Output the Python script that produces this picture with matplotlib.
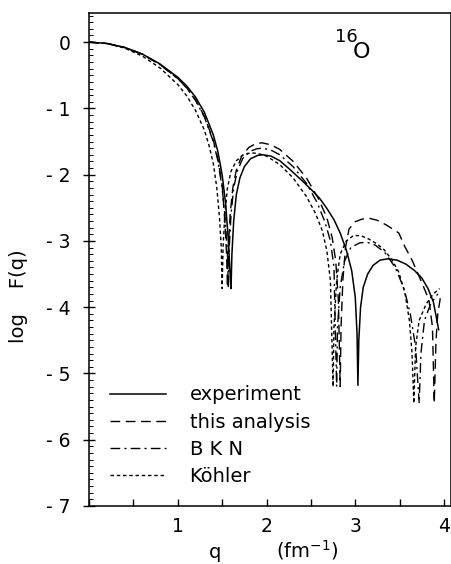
import numpy as np
import matplotlib
matplotlib.use("Agg")
import matplotlib.pyplot as plt
from matplotlib.ticker import MultipleLocator, FixedLocator

plt.rcParams['font.family'] = ['DejaVu Sans']

# values (q in fm^-1, log F(q))
q_exp = [0, 0.2, 0.4, 0.6, 0.8, 1.0, 1.1, 1.2, 1.3, 1.4, 1.45, 1.5, 1.54, 1.57, 1.59, 1.60,
         1.61, 1.63, 1.66, 1.70, 1.75, 1.82, 1.90, 1.96, 2.05, 2.15, 2.27, 2.4, 2.5, 2.6, 2.68, 2.76, 2.83, 2.90, 2.96, 3.0, 3.02, 3.03,
         3.04, 3.06, 3.09, 3.14, 3.2, 3.28, 3.37, 3.47, 3.57, 3.67, 3.75, 3.82, 3.88, 3.94]
f_exp = [0, -0.02, -0.08, -0.18, -0.33, -0.53, -0.66, -0.83, -1.06, -1.40, -1.64, -2.0, -2.45, -3.0, -3.5, -3.72,
         -3.2, -2.7, -2.3, -2.05, -1.88, -1.76, -1.71, -1.70, -1.72, -1.79, -1.93, -2.09, -2.22, -2.36, -2.51, -2.68, -2.88, -3.14, -3.45, -3.85, -4.4, -5.18,
         -4.5, -4.0, -3.7, -3.5, -3.37, -3.29, -3.27, -3.29, -3.35, -3.45, -3.56, -3.72, -3.92, -4.34]

q_ana = [0, 0.2, 0.4, 0.6, 0.8, 1.0, 1.1, 1.2, 1.3, 1.4, 1.45, 1.5, 1.53, 1.55, 1.56,
         1.57, 1.59, 1.62, 1.66, 1.72, 1.80, 1.88, 1.95, 2.05, 2.15, 2.3, 2.45, 2.58, 2.68, 2.74, 2.78, 2.81, 2.83,
         2.84, 2.86, 2.89, 2.93, 3.0, 3.08, 3.16, 3.25, 3.35, 3.42, 3.49, 3.56, 3.64, 3.75, 3.83, 3.87, 3.89,
         3.91, 3.93, 3.96]
f_ana = [0, -0.02, -0.08, -0.18, -0.34, -0.55, -0.69, -0.87, -1.12, -1.48, -1.75, -2.15, -2.7, -3.2, -3.70,
         -3.1, -2.6, -2.2, -1.93, -1.72, -1.59, -1.53, -1.52, -1.55, -1.62, -1.80, -2.05, -2.35, -2.65, -2.95, -3.3, -3.9, -5.2,
         -4.3, -3.6, -3.1, -2.82, -2.71, -2.67, -2.66, -2.69, -2.76, -2.82, -2.88, -3.09, -3.29, -3.63, -3.89, -4.3, -5.45,
         -4.5, -4.1, -3.85]

q_bkn = [0, 0.2, 0.4, 0.6, 0.8, 1.0, 1.1, 1.2, 1.3, 1.4, 1.45, 1.5, 1.53, 1.56, 1.57,
         1.58, 1.60, 1.63, 1.67, 1.73, 1.81, 1.89, 1.95, 2.05, 2.15, 2.3, 2.45, 2.57, 2.66, 2.72, 2.76, 2.79,
         2.80, 2.83, 2.88, 2.95, 3.05, 3.13, 3.22, 3.33, 3.45, 3.55, 3.62, 3.68, 3.72,
         3.74, 3.78, 3.85, 3.93]
f_bkn = [0, -0.02, -0.08, -0.18, -0.34, -0.55, -0.69, -0.88, -1.13, -1.50, -1.78, -2.2, -2.6, -3.2, -3.72,
         -3.1, -2.6, -2.2, -1.95, -1.76, -1.65, -1.61, -1.60, -1.63, -1.70, -1.88, -2.13, -2.42, -2.72, -3.0, -3.4, -5.2,
         -4.3, -3.7, -3.3, -3.1, -3.03, -3.02, -3.06, -3.17, -3.40, -3.72, -4.1, -4.6, -5.45,
         -4.7, -4.2, -3.95, -3.8]

q_koh = [0, 0.2, 0.4, 0.6, 0.8, 1.0, 1.1, 1.2, 1.3, 1.35, 1.4, 1.44, 1.47, 1.49, 1.50,
         1.51, 1.53, 1.56, 1.60, 1.66, 1.73, 1.82, 1.90, 2.0, 2.15, 2.3, 2.45, 2.55, 2.63, 2.68, 2.72, 2.75,
         2.76, 2.79, 2.83, 2.9, 2.98, 3.06, 3.15, 3.25, 3.33, 3.42, 3.49, 3.56, 3.61, 3.64, 3.66,
         3.68, 3.72, 3.8, 3.88, 3.95]
f_koh = [0, -0.02, -0.09, -0.21, -0.39, -0.64, -0.81, -1.03, -1.33, -1.55, -1.83, -2.2, -2.65, -3.1, -3.72,
         -3.1, -2.6, -2.2, -1.95, -1.79, -1.71, -1.67, -1.68, -1.72, -1.85, -2.05, -2.33, -2.58, -2.85, -3.15, -3.6, -5.2,
         -4.3, -3.6, -3.2, -3.0, -2.92, -2.92, -2.97, -3.05, -3.14, -3.3, -3.47, -3.79, -4.2, -4.7, -5.45,
         -4.6, -4.2, -3.95, -3.8, -3.72]

labels = ["experiment", "this analysis", "B K N", "Köhler"]

fig = plt.figure(figsize=(4.52, 5.64), dpi=100)
ax = fig.add_axes([0.197, 0.103, 0.801, 0.874])

ax.plot(q_exp, f_exp, color='black', lw=1.1, ls='-', label=labels[0])
ax.plot(q_ana, f_ana, color='black', lw=1.0, ls=(0, (7, 4)), label=labels[1])
ax.plot(q_bkn, f_bkn, color='black', lw=1.0, ls=(0, (7, 3, 1.5, 3)), label=labels[2])
ax.plot(q_koh, f_koh, color='black', lw=1.0, ls=(0, (2.5, 2)), label=labels[3])

ax.set_xlim(0, 4.08)
ax.set_ylim(-7, 0.44)

ax.yaxis.set_major_locator(FixedLocator(range(-7, 1)))
ax.yaxis.set_minor_locator(MultipleLocator(0.1))
ax.set_yticklabels(["- 7", "- 6", "- 5", "- 4", "- 3", "- 2", "- 1", "0"])
ax.xaxis.set_major_locator(FixedLocator([1, 2, 3, 4]))
ax.xaxis.set_minor_locator(MultipleLocator(0.5))
ax.set_xticklabels(["1", "2", "3", "4"])

ax.tick_params(axis='y', which='major', direction='inout', length=8, width=1, labelsize=13.5, pad=9)
ax.tick_params(axis='y', which='minor', direction='in', length=3, width=0.7)
ax.tick_params(axis='x', which='both', direction='in', length=5, width=1, labelsize=13.5, pad=8)
for s in ax.spines.values():
    s.set_linewidth(1.1)

ax.text(0.68, 0.952, "16", transform=ax.transAxes, fontsize=13, va='center')
ax.text(0.728, 0.92, "O", transform=ax.transAxes, fontsize=16, va='center')

fig.text(0.042, 0.475, "log    F(q)", rotation=90, fontsize=14, ha='center', va='center')
fig.text(0.475, 0.02, "q", fontsize=14, ha='center', va='center')
fig.text(0.68, 0.025, "(fm$^{-1}$)", fontsize=14, ha='center', va='center')

ax.legend(loc='upper left', bbox_to_anchor=(0.02, 0.272), frameon=False, fontsize=14,
          handlelength=2.9, handletextpad=1.2, labelspacing=0.42, borderaxespad=0.3)

fig.savefig("out.png", dpi=100)
